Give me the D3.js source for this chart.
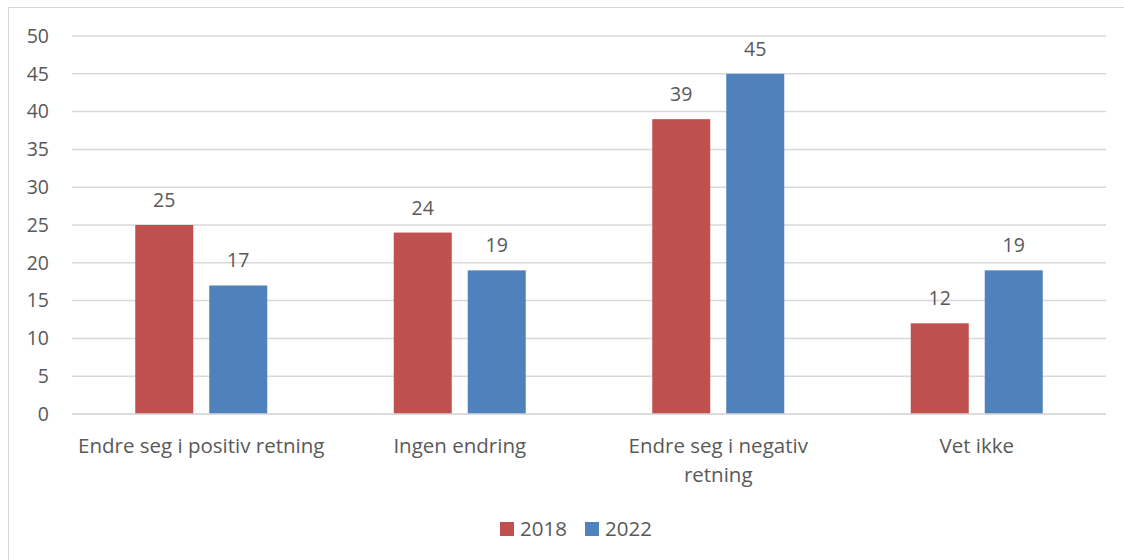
<!DOCTYPE html>
<html>
<head>
<meta charset="utf-8">
<script src="https://cdn.jsdelivr.net/npm/d3@7"></script>
<style>
  body { margin: 0; background: #fff; }
  text { font-family: "Open Sans", "Noto Sans", sans-serif; fill: #595959; }
</style>
</head>
<body>
<script>
// chart data
const categories = ["Endre seg i positiv retning", "Ingen endring", "Endre seg i negativ retning", "Vet ikke"];
const catLines = [["Endre seg i positiv retning"], ["Ingen endring"], ["Endre seg i negativ", "retning"], ["Vet ikke"]];
const years = ["2018", "2022"];
const values2018 = [25, 24, 39, 12];
const values2022 = [17, 19, 45, 19];
const yTicks = [0, 5, 10, 15, 20, 25, 30, 35, 40, 45, 50];
const colors = ["#C0504D", "#4F81BD"];

const W = 1124, H = 560;
const plotL = 72, plotR = 1106, plotT = 36, plotB = 414;

const svg = d3.select("body").append("svg")
    .attr("width", W)
    .attr("height", H);

// outer frame
svg.append("rect")
    .attr("x", 8.5).attr("y", 7.5)
    .attr("width", W).attr("height", H)
    .attr("fill", "none")
    .attr("stroke", "#d9d9d9");

const x = d3.scaleBand().domain(categories).range([plotL, plotR]);
const sub = d3.scaleBand().domain(years).range([0, 132]).paddingInner(16 / 74);
const y = d3.scaleLinear().domain([0, 50]).range([plotB, plotT]);

// grid
svg.append("g").selectAll("line")
    .data(yTicks)
    .join("line")
    .attr("x1", plotL).attr("x2", plotR)
    .attr("y1", d => y(d)).attr("y2", d => y(d))
    .attr("stroke", "#d9d9d9")
    .attr("stroke-width", 1.5);

// y labels
svg.append("g").selectAll("text")
    .data(yTicks)
    .join("text")
    .attr("x", 49)
    .attr("y", d => y(d))
    .attr("dy", "0.35em")
    .attr("text-anchor", "end")
    .style("font-size", "19.5px")
    .text(d => d);

const series = [values2018, values2022];
series.forEach((vals, si) => {
  const g = svg.append("g");
  const data = categories.map((c, i) => ({ c, v: vals[i] }));
  const off = d => x(d.c) + x.bandwidth() / 2 - 66 + sub(years[si]);
  g.selectAll("rect")
    .data(data)
    .join("rect")
    .attr("x", off)
    .attr("y", d => y(d.v))
    .attr("width", sub.bandwidth())
    .attr("height", d => y(0) - y(d.v))
    .attr("fill", colors[si]);
  g.selectAll("text")
    .data(data)
    .join("text")
    .attr("x", d => off(d) + sub.bandwidth() / 2)
    .attr("y", d => y(d.v) - 18)
    .attr("text-anchor", "middle")
    .style("font-size", "19.5px")
    .text(d => d.v);
});

// redraw axis line on top
svg.append("line")
    .attr("x1", plotL).attr("x2", plotR)
    .attr("y1", y(0)).attr("y2", y(0))
    .attr("stroke", "#d9d9d9")
    .attr("stroke-width", 1.5);

// category labels
const cl = svg.append("g").selectAll("text")
    .data(categories)
    .join("text")
    .attr("x", d => x(d) + x.bandwidth() / 2)
    .attr("y", 453)
    .attr("text-anchor", "middle")
    .style("font-size", "20.5px");
cl.selectAll("tspan")
    .data((d, i) => catLines[i].map(t => ({ t, cx: x(d) + x.bandwidth() / 2 })))
    .join("tspan")
    .attr("x", d => d.cx)
    .attr("dy", (d, i) => i === 0 ? 0 : 29)
    .text(d => d.t);

// legend
const legendX = [500, 585];
const lg = svg.append("g").selectAll("g")
    .data(years)
    .join("g")
    .attr("transform", (d, i) => `translate(${legendX[i]},522)`);
lg.append("rect")
    .attr("width", 14).attr("height", 14)
    .attr("fill", (d, i) => colors[i]);
lg.append("text")
    .attr("x", 20).attr("y", 7)
    .attr("dy", "0.35em")
    .style("font-size", "20.5px")
    .text(d => d);
</script>
</body>
</html>
